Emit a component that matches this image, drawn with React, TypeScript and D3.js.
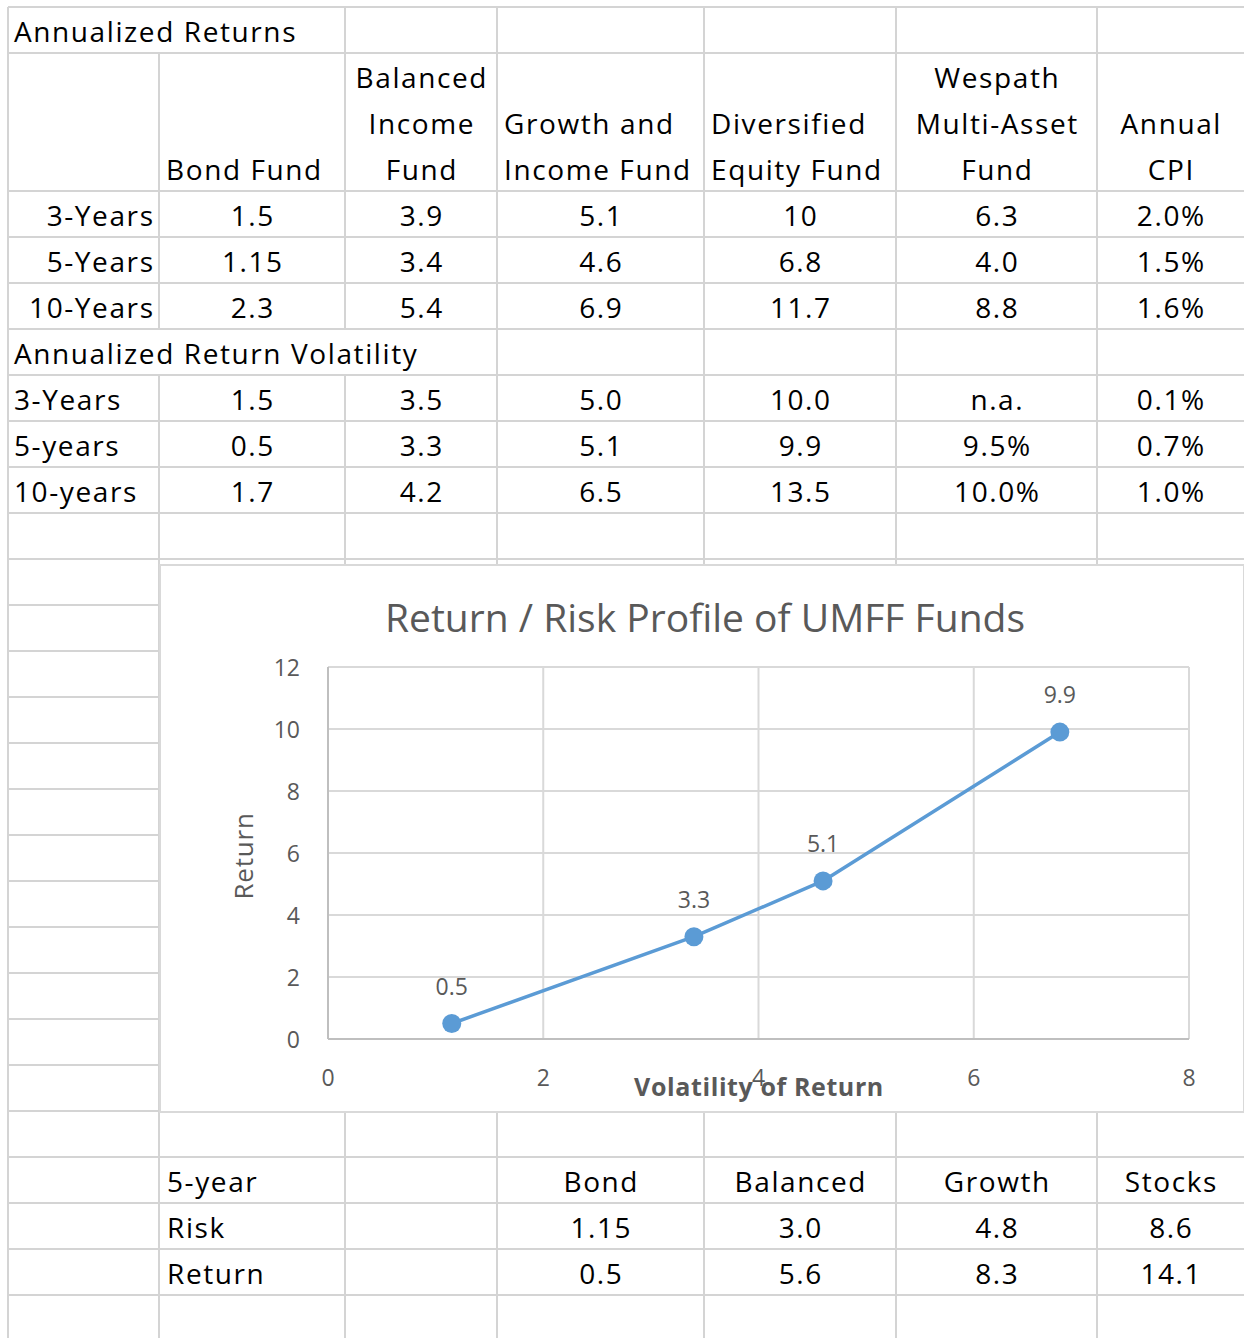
import React from "react";
import * as d3 from "d3";

const FONT = "'Open Sans', Lato, sans-serif";

// Spreadsheet layout data
const colEdges = [8, 159, 345, 497, 704, 896, 1097, 1244];
const rowTop = 7;
const rowH = 46;

// Annualized returns table
const fundHeaders = [
  { lines: ["Bond Fund"], align: "start" },
  { lines: ["Balanced", "Income", "Fund"], align: "middle" },
  { lines: ["Growth and", "Income Fund"], align: "start" },
  { lines: ["Diversified", "Equity Fund"], align: "start" },
  { lines: ["Wespath", "Multi-Asset", "Fund"], align: "middle" },
  { lines: ["Annual", "CPI"], align: "middle" },
];
const returnPeriods = ["3-Years", "5-Years", "10-Years"];
const returns3y = ["1.5", "3.9", "5.1", "10", "6.3", "2.0%"];
const returns5y = ["1.15", "3.4", "4.6", "6.8", "4.0", "1.5%"];
const returns10y = ["2.3", "5.4", "6.9", "11.7", "8.8", "1.6%"];

const volPeriods = ["3-Years", "5-years", "10-years"];
const vol3y = ["1.5", "3.5", "5.0", "10.0", "n.a.", "0.1%"];
const vol5y = ["0.5", "3.3", "5.1", "9.9", "9.5%", "0.7%"];
const vol10y = ["1.7", "4.2", "6.5", "13.5", "10.0%", "1.0%"];

// Bottom table
const bottomHeaders = ["Bond", "Balanced", "Growth", "Stocks"];
const bottomRisk = ["1.15", "3.0", "4.8", "8.6"];
const bottomReturn = ["0.5", "5.6", "8.3", "14.1"];

// Chart series (5-year return vs 5-year volatility)
const chartX = [1.15, 3.4, 4.6, 6.8];
const chartY = [0.5, 3.3, 5.1, 9.9];
const xTicks = [0, 2, 4, 6, 8];
const yTicks = [0, 2, 4, 6, 8, 10, 12];

const GRID = "#d4d4d4";
const CHART_TEXT = "#595959";
const BLUE = "#5b9bd5";

const rowY = (i: number) => rowTop + i * rowH;

export default function App() {
  const hLines: number[] = [];
  for (let i = 0; i <= 29; i++) {
    if (i === 2 || i === 3) continue;
    hLines.push(rowY(i));
  }

  const chartLeft = 160, chartTop = 565, chartRight = 1244, chartBottom = 1112;
  const x = d3.scaleLinear().domain([0, 8]).range([328, 1189]);
  const y = d3.scaleLinear().domain([0, 12]).range([1039, 667]);
  const line = d3.line<number>().x((d, i) => x(chartX[i])).y((d) => y(d));

  const tableFS = 28;
  const LS = 1.6;
  const colCenter = (c: number) => (colEdges[c] + colEdges[c + 1]) / 2 + LS / 2;
  const baseline = (rowIdx: number) => rowY(rowIdx + 1) - 11;

  const vSegs: { x: number; y1: number; y2: number }[] = [];
  colEdges.slice(0, 7).forEach((cx, ci) => {
    for (let r = 0; r < 29; r++) {
      if (r === 1 || r === 2) continue;
      let y1 = rowY(r);
      let y2 = rowY(r + 1);
      if (r === 3) y1 = rowY(1);
      if (r === 0 && ci === 1) continue;
      if (r === 7 && (ci === 1 || ci === 2)) continue;
      vSegs.push({ x: cx, y1, y2 });
    }
  });

  const renderRow = (rowIdx: number, label: string, vals: string[], labelAlign: "start" | "end") => (
    <g key={`r${rowIdx}`}>
      <text x={labelAlign === "end" ? 153 + LS : 14} y={baseline(rowIdx)} textAnchor={labelAlign}>
        {label}
      </text>
      {vals.map((v, i) => (
        <text key={i} x={colCenter(i + 1)} y={baseline(rowIdx)} textAnchor="middle">
          {v}
        </text>
      ))}
    </g>
  );

  return (
    <div style={{ position: "absolute", left: 0, top: 0 }}>
      <svg width={1244} height={1338} style={{ display: "block", background: "#fff" }} fontFamily={FONT}>
        <rect x={0} y={0} width={1244} height={1338} fill="#fff" />
        {hLines.map((yy) => (
          <line key={yy} x1={8} x2={1244} y1={yy} y2={yy} stroke={GRID} strokeWidth={2} />
        ))}
        {vSegs.map((s, i) => (
          <line key={i} x1={s.x} x2={s.x} y1={s.y1} y2={s.y2} stroke={GRID} strokeWidth={2} />
        ))}

        <g fill="#000" fontSize={tableFS} letterSpacing={LS}>
          <text x={14} y={baseline(0)}>Annualized Returns</text>
          {fundHeaders.map((h, ci) => {
            const c = ci + 1;
            const n = h.lines.length;
            return h.lines.map((ln, li) => (
              <text
                key={`${ci}-${li}`}
                x={h.align === "start" ? colEdges[c] + 7 : colCenter(c)}
                y={baseline(3 - (n - 1 - li))}
                textAnchor={h.align}
              >
                {ln}
              </text>
            ));
          })}
          {renderRow(4, returnPeriods[0], returns3y, "end")}
          {renderRow(5, returnPeriods[1], returns5y, "end")}
          {renderRow(6, returnPeriods[2], returns10y, "end")}
          <text x={14} y={baseline(7)}>Annualized Return Volatility</text>
          {renderRow(8, volPeriods[0], vol3y, "start")}
          {renderRow(9, volPeriods[1], vol5y, "start")}
          {renderRow(10, volPeriods[2], vol10y, "start")}

          <text x={167} y={baseline(25)}>5-year</text>
          {bottomHeaders.map((h, i) => (
            <text key={h} x={colCenter(i + 3)} y={baseline(25)} textAnchor="middle">{h}</text>
          ))}
          <text x={167} y={baseline(26)}>Risk</text>
          {bottomRisk.map((v, i) => (
            <text key={i} x={colCenter(i + 3)} y={baseline(26)} textAnchor="middle">{v}</text>
          ))}
          <text x={167} y={baseline(27)}>Return</text>
          {bottomReturn.map((v, i) => (
            <text key={i} x={colCenter(i + 3)} y={baseline(27)} textAnchor="middle">{v}</text>
          ))}
        </g>

        {/* Chart */}
        <rect x={chartLeft} y={chartTop} width={chartRight - chartLeft} height={chartBottom - chartTop} fill="#fff" stroke="#d9d9d9" strokeWidth={2} />
        <text x={705} y={632} textAnchor="middle" fontSize={39} fill={CHART_TEXT}>
          Return / Risk Profile of UMFF Funds
        </text>
        {yTicks.map((t) => (
          <line key={`gy${t}`} x1={x(0)} x2={x(8)} y1={y(t)} y2={y(t)} stroke="#d9d9d9" strokeWidth={2} />
        ))}
        {xTicks.map((t) => (
          <line key={`gx${t}`} x1={x(t)} x2={x(t)} y1={y(0)} y2={y(12)} stroke="#d9d9d9" strokeWidth={2} />
        ))}
        <line x1={x(0)} x2={x(8)} y1={y(0)} y2={y(0)} stroke="#bfbfbf" strokeWidth={2} />
        <line x1={x(0)} x2={x(0)} y1={y(0)} y2={y(12)} stroke="#bfbfbf" strokeWidth={2} />
        {yTicks.map((t) => (
          <text key={`ty${t}`} x={300} y={y(t) + 9} textAnchor="end" fontSize={23} fill={CHART_TEXT}>{t}</text>
        ))}
        {xTicks.map((t) => (
          <text key={`tx${t}`} x={x(t)} y={1086} textAnchor="middle" fontSize={23} fill={CHART_TEXT}>{t}</text>
        ))}
        <text x={759} y={1096} textAnchor="middle" fontSize={25} fontWeight="bold" letterSpacing={0.6} fill={CHART_TEXT}>Volatility of Return</text>
        <text transform="translate(253,856) rotate(-90)" textAnchor="middle" fontSize={26} letterSpacing={0.8} fill={CHART_TEXT}>Return</text>

        <path d={line(chartY) || ""} fill="none" stroke={BLUE} strokeWidth={3.5} strokeLinejoin="round" />
        {chartY.map((v, i) => (
          <g key={`p${i}`}>
            <circle cx={x(chartX[i])} cy={y(v)} r={9.5} fill={BLUE} />
            <text x={x(chartX[i])} y={y(v) - 29} textAnchor="middle" fontSize={23} fill={CHART_TEXT}>{v}</text>
          </g>
        ))}
      </svg>
    </div>
  );
}
